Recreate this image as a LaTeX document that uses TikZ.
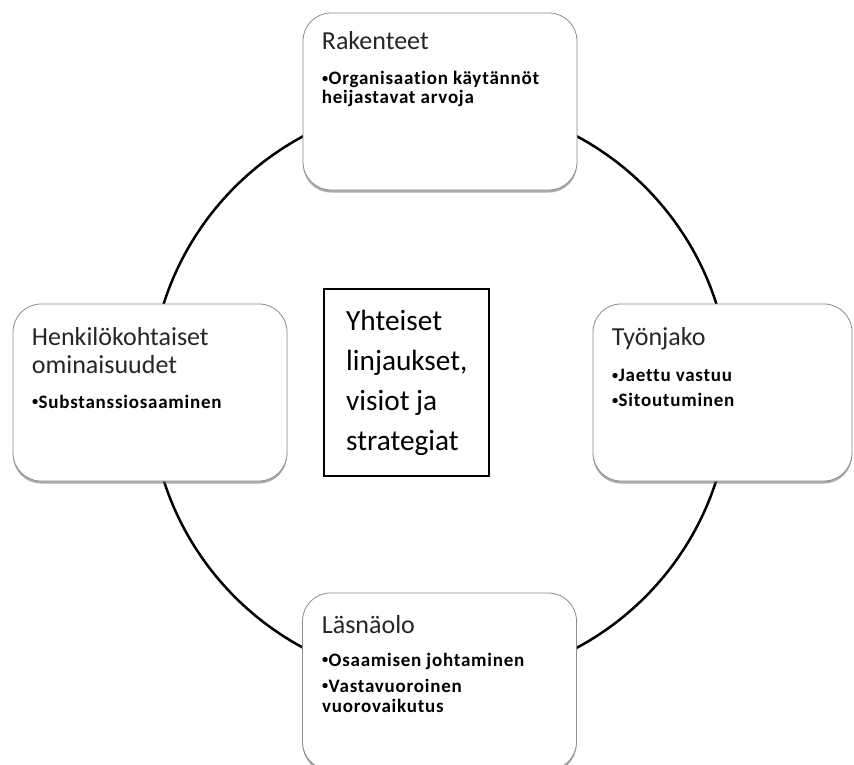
\documentclass[tikz,border=0pt]{standalone}
\usepackage{fontspec}
\setmainfont{Carlito}
\newfontfamily\bulfont[LetterSpace=4,Ligatures=NoCommon]{Carlito}
\usetikzlibrary{shadows}
\newcommand\bulletmark{\makebox[6.5pt][l]{\raisebox{0.12em}{\scalebox{0.65}{•}}}}
\begin{document}
\begin{tikzpicture}[x=1pt,y=-1pt,
  card/.style={draw=black!45, line width=0.8pt, fill=white, rounded corners=28pt,
    minimum width=274pt, minimum height=177pt, inner sep=0pt,
    drop shadow={shadow xshift=0pt, shadow yshift=-2.5pt, opacity=0.55, fill=black!60}},
  ttl/.style={anchor=base west, inner sep=0pt, font=\fontsize{26}{30}\selectfont, text=black!85},
  bul/.style={anchor=base west, inner sep=0pt, font=\bulfont\bfseries\fontsize{19}{19.5}\selectfont},
  ctr/.style={anchor=base west, inner sep=0pt, font=\fontsize{29.3}{40}\selectfont}]
\useasboundingbox (0,0) rectangle (854,765);
\coordinate (c) at (440,392);
\draw[line width=2.5pt] (c) circle[radius=290pt];

\node[card] (top) at (440,101.5) {};
\node[card] (left) at (150,392.5) {};
\node[card, minimum width=259pt] (right) at (722.5,392.5) {};
\node[card] (bottom) at (439.5,681.5) {};
\node[draw, line width=2pt, minimum width=165pt, minimum height=187pt, inner sep=0pt] (mid) at (406.5,382.5) {};

% Rakenteet
\node[ttl] (t1) at (321.7,50) {Rakenteet};
\node[bul] (t2) at (322,85) {\bulletmark Organisaation käytännöt};
\node[bul] (t3) at (321.7,104) {heijastavat arvoja};

% Henkilokohtaiset
\node[ttl] (l1) at (31.7,345) {Henkilökohtaiset};
\node[ttl] (l2) at (31.7,373) {ominaisuudet};
\node[bul] (l3) at (32,408) {\bulletmark Substanssiosaaminen};

% Tyonjako
\node[ttl] (r1) at (611.7,345) {Työnjako};
\node[bul] (r2) at (612,381.5) {\bulletmark Jaettu vastuu};
\node[bul] (r3) at (612,406.5) {\bulletmark Sitoutuminen};

% Lasnaolo
\node[ttl] (b1) at (321.7,633) {Läsnäolo};
\node[bul] (b2) at (322,666) {\bulletmark Osaamisen johtaminen};
\node[bul] (b3) at (322,692) {\bulletmark Vastavuoroinen};
\node[bul] (b4) at (322,712) {vuorovaikutus};

% centre
\node[ctr] (m1) at (346,330) {Yhteiset};
\node[ctr] (m2) at (346,370) {linjaukset,};
\node[ctr] (m3) at (346,410) {visiot ja};
\node[ctr] (m4) at (346,450) {strategiat};
\end{tikzpicture}
\end{document}
